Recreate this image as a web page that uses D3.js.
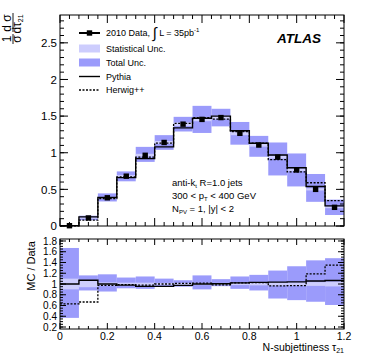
<!DOCTYPE html>
<html>
<head>
<meta charset="utf-8">
<script src="https://cdn.jsdelivr.net/npm/d3@7"></script>
<style>
body { margin: 0; background: #fff; }
text { font-family: "Liberation Sans", Arial, sans-serif; }
</style>
</head>
<body>
<div id="chart"></div>
<script>
// data (bins of width 0.08 from 0 to 1.2)
const binEdges = [0, 0.08, 0.16, 0.24, 0.32, 0.4, 0.48, 0.56, 0.64, 0.72, 0.8, 0.88, 0.96, 1.04, 1.12, 1.2]
const dataVals = [0.004, 0.11, 0.385, 0.68, 0.965, 1.14, 1.39, 1.455, 1.48, 1.265, 1.105, 0.94, 0.765, 0.50, 0.255]
const statErr = [0.002, 0.01, 0.012, 0.015, 0.02, 0.02, 0.025, 0.025, 0.025, 0.025, 0.022, 0.02, 0.018, 0.015, 0.012]
const totLow = [0.0, 0.08, 0.335, 0.61, 0.875, 1.04, 1.29, 1.27, 1.36, 1.11, 0.945, 0.69, 0.54, 0.33, 0.15]
const totHigh = [0.01, 0.14, 0.445, 0.745, 1.08, 1.24, 1.49, 1.64, 1.60, 1.42, 1.23, 1.14, 0.99, 0.71, 0.36]
const pythia = [0.005, 0.125, 0.39, 0.66, 0.92, 1.08, 1.34, 1.47, 1.50, 1.30, 1.13, 0.97, 0.795, 0.54, 0.275]
const herwig = [0.003, 0.08, 0.375, 0.67, 0.94, 1.13, 1.40, 1.48, 1.46, 1.29, 1.13, 0.905, 0.74, 0.59, 0.345]

// ratio panel
const ratioTotLow = [0.37, 0.88, 0.86, 0.92, 0.91, 0.95, 0.95, 0.90, 0.96, 0.91, 0.88, 0.73, 0.70, 0.67, 0.61]
const ratioTotHigh = [1.67, 1.16, 1.18, 1.12, 1.14, 1.10, 1.07, 1.16, 1.09, 1.14, 1.17, 1.25, 1.33, 1.44, 1.48]
const ratioStat = [0.10, 0.06, 0.03, 0.025, 0.025, 0.02, 0.02, 0.02, 0.02, 0.02, 0.025, 0.03, 0.03, 0.035, 0.045]
const ratioPythia = [1.0, 1.07, 1.0, 0.98, 0.955, 0.955, 0.975, 1.0, 1.005, 1.02, 1.03, 1.035, 1.04, 1.055, 1.065]
const ratioHerwig = [0.63, 0.665, 0.975, 0.99, 0.98, 1.0, 1.01, 1.015, 0.985, 1.02, 1.025, 0.965, 0.97, 1.19, 1.35]

const mainYTicks = [0, 0.5, 1, 1.5, 2, 2.5]
const ratioYTicks = [0.2, 0.4, 0.6, 0.8, 1, 1.2, 1.4, 1.6, 1.8]
const xTicks = [0, 0.2, 0.4, 0.6, 0.8, 1, 1.2]

const width = 374
const height = 359
const totColor = "#9b9bfb"
const statColor = "#cdcdfd"

const svg = d3.select("#chart").append("svg")
  .attr("width", width).attr("height", height)

const x = d3.scaleLinear().domain([0, 1.2]).range([60, 344])
const y = d3.scaleLinear().domain([0, 2.88]).range([226, 15])
const yr = d3.scaleLinear().domain([0.163, 1.837]).range([329, 239])

const bins = dataVals.map((d, i) => ({ i: i, x0: binEdges[i], x1: binEdges[i + 1], xc: (binEdges[i] + binEdges[i + 1]) / 2 }))

function stepPath(vals, ys) {
  let p = "M" + x(binEdges[0]) + "," + ys(vals[0])
  vals.forEach((v, i) => {
    if (i > 0) p += "V" + ys(v)
    p += "H" + x(binEdges[i + 1])
  })
  return p
}

// frame + ticks helper
function drawFrame(ys, yMajor, yMinorStep, yMaj, yMin, xMaj, xMin, yFmt, yFont, showXLabels) {
  const g = svg.append("g")
  const [x0, x1] = x.range()
  const [yb, yt] = ys.range()
  // minor y ticks
  const d0 = ys.domain()
  const yMinor = d3.range(Math.ceil(d0[0] / yMinorStep) * yMinorStep, d0[1], yMinorStep)
  yMinor.forEach(v => {
    g.append("line").attr("x1", x0).attr("x2", x0 + yMin).attr("y1", ys(v)).attr("y2", ys(v)).attr("stroke", "#000")
    g.append("line").attr("x1", x1).attr("x2", x1 - yMin).attr("y1", ys(v)).attr("y2", ys(v)).attr("stroke", "#000")
  })
  yMajor.forEach(v => {
    g.append("line").attr("x1", x0).attr("x2", x0 + yMaj).attr("y1", ys(v)).attr("y2", ys(v)).attr("stroke", "#000")
    g.append("line").attr("x1", x1).attr("x2", x1 - yMaj).attr("y1", ys(v)).attr("y2", ys(v)).attr("stroke", "#000")
    g.append("text").attr("x", x0 - 3).attr("y", ys(v) + yFont * 0.36)
      .attr("text-anchor", "end").attr("font-size", yFont).text(yFmt(v))
  })
  d3.range(0, 1.2001, 0.04).forEach(v => {
    const major = Math.abs(v / 0.2 - Math.round(v / 0.2)) < 1e-6
    const len = major ? xMaj : xMin
    g.append("line").attr("x1", x(v)).attr("x2", x(v)).attr("y1", yb).attr("y2", yb - len).attr("stroke", "#000")
    g.append("line").attr("x1", x(v)).attr("x2", x(v)).attr("y1", yt).attr("y2", yt + len).attr("stroke", "#000")
  })
  if (showXLabels) {
    xTicks.forEach(v => {
      g.append("text").attr("x", x(v)).attr("y", yb + 10.5).attr("text-anchor", "middle")
        .attr("font-size", 10.5).text(d3.format("")(v))
    })
  }
  g.append("rect").attr("x", x0).attr("y", yt).attr("width", x1 - x0).attr("height", yb - yt)
    .attr("fill", "none").attr("stroke", "#000").attr("stroke-width", 1)
}

// ---- main panel ----
const main = svg.append("g")
main.selectAll(".tot").data(bins).join("rect")
  .attr("x", d => x(d.x0)).attr("width", d => x(d.x1) - x(d.x0))
  .attr("y", d => y(totHigh[d.i])).attr("height", d => y(totLow[d.i]) - y(totHigh[d.i]))
  .attr("fill", totColor)
main.selectAll(".stat").data(bins).join("rect")
  .attr("x", d => x(d.x0)).attr("width", d => x(d.x1) - x(d.x0))
  .attr("y", d => y(dataVals[d.i] + statErr[d.i])).attr("height", d => y(dataVals[d.i] - statErr[d.i]) - y(dataVals[d.i] + statErr[d.i]))
  .attr("fill", statColor)
main.append("path").attr("d", stepPath(herwig, y)).attr("fill", "none")
  .attr("stroke", "#000").attr("stroke-width", 1.3).attr("stroke-dasharray", "2,1.5")
main.append("path").attr("d", stepPath(pythia, y)).attr("fill", "none")
  .attr("stroke", "#000").attr("stroke-width", 1.4)
main.selectAll(".eb").data(bins).join("line")
  .attr("x1", d => x(d.xc)).attr("x2", d => x(d.xc))
  .attr("y1", d => y(dataVals[d.i] + statErr[d.i])).attr("y2", d => y(dataVals[d.i] - statErr[d.i]))
  .attr("stroke", "#000")
main.selectAll(".pt").data(bins).join("rect")
  .attr("x", d => x(d.xc) - 2.7).attr("y", d => y(dataVals[d.i]) - 2.7)
  .attr("width", 5.4).attr("height", 5.4).attr("fill", "#000")

drawFrame(y, mainYTicks, 0.1, 8, 4, 8, 4, d3.format(""), 11.5, false)

// ---- ratio panel ----
const rat = svg.append("g")
rat.selectAll(".rtot").data(bins).join("rect")
  .attr("x", d => x(d.x0)).attr("width", d => x(d.x1) - x(d.x0))
  .attr("y", d => yr(ratioTotHigh[d.i])).attr("height", d => yr(ratioTotLow[d.i]) - yr(ratioTotHigh[d.i]))
  .attr("fill", totColor)
rat.selectAll(".rstat").data(bins).join("rect")
  .attr("x", d => x(d.x0)).attr("width", d => x(d.x1) - x(d.x0))
  .attr("y", d => yr(1 + ratioStat[d.i])).attr("height", d => yr(1 - ratioStat[d.i]) - yr(1 + ratioStat[d.i]))
  .attr("fill", statColor)
rat.append("path").attr("d", stepPath(ratioHerwig, yr)).attr("fill", "none")
  .attr("stroke", "#000").attr("stroke-width", 1.3).attr("stroke-dasharray", "2,1.5")
rat.append("path").attr("d", stepPath(ratioPythia, yr)).attr("fill", "none")
  .attr("stroke", "#000").attr("stroke-width", 1.4)

drawFrame(yr, ratioYTicks, 0.05, 6, 3, 6, 3, d3.format(""), 10, true)

// ---- legend ----
const leg = svg.append("g").attr("font-size", 9)
const lx0 = 79, lx1 = 100, tx = 106
leg.append("line").attr("x1", lx0).attr("x2", lx1).attr("y1", 33).attr("y2", 33).attr("stroke", "#000").attr("stroke-width", 2)
leg.append("rect").attr("x", (lx0 + lx1) / 2 - 2.7).attr("y", 33 - 2.7).attr("width", 5.4).attr("height", 5.4)
const t1 = leg.append("text").attr("x", tx).attr("y", 36)
t1.append("tspan").text("2010 Data, ")
t1.append("tspan").attr("font-size", 15).attr("dy", 2).text("∫")
t1.append("tspan").attr("dy", -2).text(" L = 35pb")
t1.append("tspan").attr("font-size", 6).attr("dy", -4).text("-1")
leg.append("rect").attr("x", lx0).attr("y", 44.5).attr("width", lx1 - lx0).attr("height", 8).attr("fill", statColor)
leg.append("text").attr("x", tx).attr("y", 51.5).text("Statistical Unc.")
leg.append("rect").attr("x", lx0).attr("y", 58.5).attr("width", lx1 - lx0).attr("height", 8).attr("fill", totColor)
leg.append("text").attr("x", tx).attr("y", 65.5).text("Total Unc.")
leg.append("line").attr("x1", lx0).attr("x2", lx1).attr("y1", 76.5).attr("y2", 76.5).attr("stroke", "#000").attr("stroke-width", 1.4)
leg.append("text").attr("x", tx).attr("y", 79.5).text("Pythia")
leg.append("line").attr("x1", lx0).attr("x2", lx1).attr("y1", 90).attr("y2", 90).attr("stroke", "#000").attr("stroke-width", 1.3).attr("stroke-dasharray", "2,1.5")
leg.append("text").attr("x", tx).attr("y", 93).text("Herwig++")

// ATLAS label
svg.append("text").attr("x", 277).attr("y", 43).attr("font-size", 13.5)
  .attr("font-weight", "bold").attr("font-style", "italic").text("ATLAS")

// selection text
const sel = svg.append("g").attr("font-size", 9.5)
const s1 = sel.append("text").attr("x", 172).attr("y", 186)
s1.append("tspan").text("anti-k")
s1.append("tspan").attr("font-size", 6).attr("dy", 2).text("t")
s1.append("tspan").attr("dy", -2).text(" R=1.0 jets")
const s2 = sel.append("text").attr("x", 172).attr("y", 199)
s2.append("tspan").text("300 < p")
s2.append("tspan").attr("font-size", 6).attr("dy", 2).text("T")
s2.append("tspan").attr("dy", -2).text(" < 400 GeV")
const s3 = sel.append("text").attr("x", 172).attr("y", 212)
s3.append("tspan").text("N")
s3.append("tspan").attr("font-size", 6).attr("dy", 2).text("PV")
s3.append("tspan").attr("dy", -2).text(" = 1, |y| < 2")

// y label main: 1/sigma dsigma/dtau21
const yl = svg.append("g").attr("transform", "translate(13,0) rotate(-90)").attr("font-size", 12)
yl.append("text").attr("x", -39).attr("y", -2).attr("text-anchor", "middle").text("1")
yl.append("line").attr("x1", -44).attr("x2", -34).attr("y1", 0).attr("y2", 0).attr("stroke", "#000").attr("stroke-width", 0.9)
yl.append("text").attr("x", -39).attr("y", 8).attr("text-anchor", "middle").text("σ")
yl.append("text").attr("x", -23).attr("y", -2).attr("text-anchor", "middle").text("d σ")
yl.append("line").attr("x1", -32).attr("x2", -13).attr("y1", 0).attr("y2", 0).attr("stroke", "#000").attr("stroke-width", 0.9)
const dt = yl.append("text").attr("x", -24).attr("y", 8).attr("text-anchor", "middle")
dt.append("tspan").text("dτ")
dt.append("tspan").attr("font-size", 7).attr("dy", 2).text("21")

// ratio y label
svg.append("text").attr("transform", "translate(35,266) rotate(-90)").attr("text-anchor", "middle")
  .attr("font-size", 11).text("MC / Data")

// x label
const xl = svg.append("text").attr("x", 344).attr("y", 351).attr("text-anchor", "end").attr("font-size", 10.5)
xl.append("tspan").text("N-subjettiness τ")
xl.append("tspan").attr("font-size", 7).attr("dy", 2).text("21")
</script>
</body>
</html>
